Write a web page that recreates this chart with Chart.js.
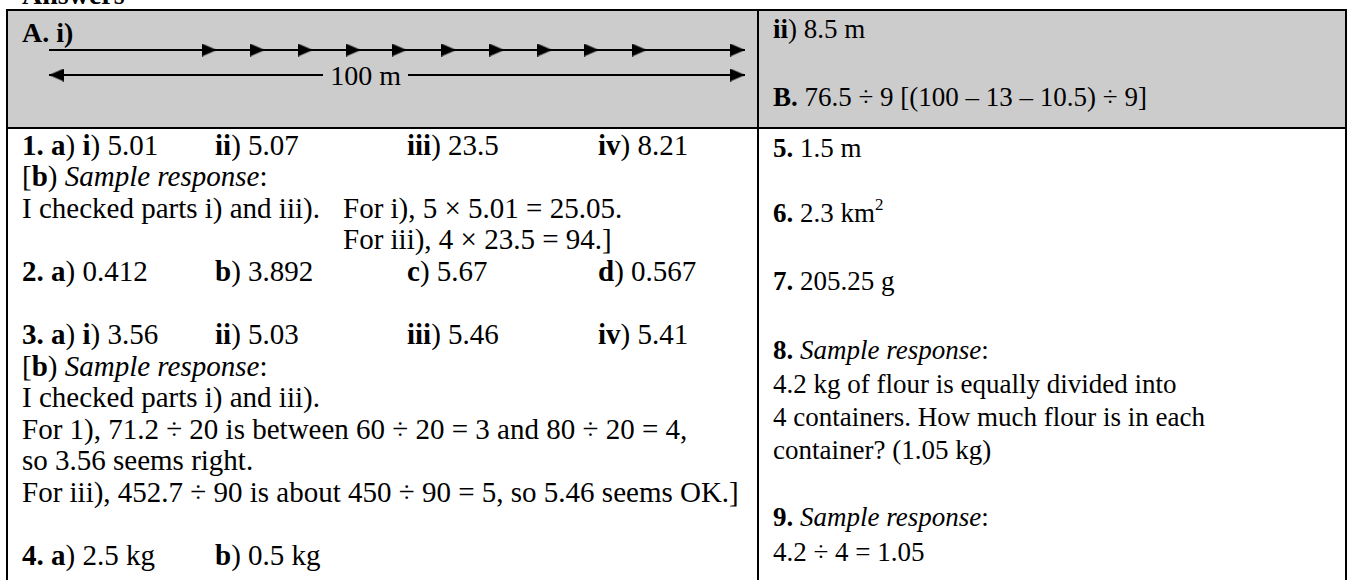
<!DOCTYPE html>
<html>
<head>
<meta charset="utf-8">
<script src="https://cdn.jsdelivr.net/npm/chart.js@4.4.1/dist/chart.umd.min.js"></script>
<style>
  body{margin:0;background:#fff;width:1353px;height:580px;overflow:hidden;position:relative;
       font-family:"Liberation Serif","Times New Roman",serif;font-size:28px;color:#000;}
  .ln{position:absolute;white-space:pre;line-height:32px;height:32px;}
  .l{font-size:29px;}
  .r{font-size:27px;}
  .rule{position:absolute;background:#000;}
  .gray{position:absolute;background:#cccccc;}
  sup{font-size:17px;line-height:0;vertical-align:12px;}
  #track{position:absolute;left:29px;top:35px;}
  #len{position:absolute;background:#cccccc;padding:0 7px;line-height:32px;white-space:pre;}
</style>
</head>
<body>
<div class="ln" style="left:22px;top:-21px"><b>Answers</b></div>

<div class="gray" style="left:8px;top:11px;width:1337px;height:116px"></div>
<div class="rule" style="left:6px;top:9px;width:1341px;height:2px"></div>
<div class="rule" style="left:6px;top:127px;width:1341px;height:2px"></div>
<div class="rule" style="left:6px;top:9px;width:2px;height:580px"></div>
<div class="rule" style="left:757px;top:9px;width:2px;height:580px"></div>
<div class="rule" style="left:1345px;top:9px;width:2px;height:580px"></div>

<!-- row A -->
<div class="ln" style="left:22px;top:17px"><b>A. i)</b></div>
<canvas id="track" width="736" height="55"></canvas>
<span id="len"></span>
<div class="ln r" style="left:773px;top:13px"><b>ii</b>) 8.5 m</div>
<div class="ln r" style="left:773px;top:81px"><b>B.</b> 76.5 ÷ 9 [(100 – 13 – 10.5) ÷ 9]</div>

<!-- left column -->
<div class="ln l" style="left:22px;top:129px"><b>1. a</b>) <b>i</b>) 5.01</div>
<div class="ln l" style="left:215px;top:129px"><b>ii</b>) 5.07</div>
<div class="ln l" style="left:407px;top:129px"><b>iii</b>) 23.5</div>
<div class="ln l" style="left:598px;top:129px"><b>iv</b>) 8.21</div>
<div class="ln l" style="left:22px;top:160px">[<b>b</b>) <i>Sample response</i>:</div>
<div class="ln l" style="left:22px;top:192px">I checked parts i) and iii).</div>
<div class="ln l" style="left:343px;top:192px">For i), 5 × 5.01 = 25.05.</div>
<div class="ln l" style="left:343px;top:223px">For iii), 4 × 23.5 = 94.]</div>
<div class="ln l" style="left:22px;top:255px"><b>2. a</b>) 0.412</div>
<div class="ln l" style="left:215px;top:255px"><b>b</b>) 3.892</div>
<div class="ln l" style="left:407px;top:255px"><b>c</b>) 5.67</div>
<div class="ln l" style="left:598px;top:255px"><b>d</b>) 0.567</div>
<div class="ln l" style="left:22px;top:318px"><b>3. a</b>) <b>i</b>) 3.56</div>
<div class="ln l" style="left:215px;top:318px"><b>ii</b>) 5.03</div>
<div class="ln l" style="left:407px;top:318px"><b>iii</b>) 5.46</div>
<div class="ln l" style="left:598px;top:318px"><b>iv</b>) 5.41</div>
<div class="ln l" style="left:22px;top:350px">[<b>b</b>) <i>Sample response</i>:</div>
<div class="ln l" style="left:22px;top:381px">I checked parts i) and iii).</div>
<div class="ln l" style="left:22px;top:413px">For 1), 71.2 ÷ 20 is between 60 ÷ 20 = 3 and 80 ÷ 20 = 4,</div>
<div class="ln l" style="left:22px;top:444px">so 3.56 seems right.</div>
<div class="ln l" style="left:22px;top:476px">For iii), 452.7 ÷ 90 is about 450 ÷ 90 = 5, so 5.46 seems OK.]</div>
<div class="ln l" style="left:22px;top:539px"><b>4. a</b>) 2.5 kg</div>
<div class="ln l" style="left:215px;top:539px"><b>b</b>) 0.5 kg</div>

<!-- right column -->
<div class="ln r" style="left:773px;top:132px"><b>5.</b> 1.5 m</div>
<div class="ln r" style="left:773px;top:197px"><b>6.</b> 2.3 km<sup>2</sup></div>
<div class="ln r" style="left:773px;top:265px"><b>7.</b> 205.25 g</div>
<div class="ln r" style="left:773px;top:334px"><b>8.</b> <i>Sample response</i>:</div>
<div class="ln r" style="left:773px;top:368px">4.2 kg of flour is equally divided into</div>
<div class="ln r" style="left:773px;top:401px">4 containers. How much flour is in each</div>
<div class="ln r" style="left:773px;top:434px">container? (1.05 kg)</div>
<div class="ln r" style="left:773px;top:501px"><b>9.</b> <i>Sample response</i>:</div>
<div class="ln r" style="left:773px;top:536px">4.2 ÷ 4 = 1.05</div>

<script>
// track diagram, positions on a 0..100 scale
const trackStart = 0;
const trackEnd = 100;
const hurdleMarks = [24.1, 31.0, 37.9, 44.8, 51.4, 58.5, 65.4, 72.3, 79.0, 85.9];
const lengthLabel = "100 m";
const labelAt = 45.5;
const runRow = 1, measureRow = 0;

// arrowhead whose tip sits at the image centre
function arrowHead(len, h){
  const c = document.createElement("canvas");
  c.width = len*2; c.height = h;
  const g = c.getContext("2d");
  g.fillStyle = "#000";
  g.beginPath(); g.moveTo(0,0); g.lineTo(len,h/2); g.lineTo(0,h); g.closePath(); g.fill();
  return c;
}
const head = arrowHead(15, 13);

const seg = (y)=>[{x:trackStart,y},{x:trackEnd,y}];
const base = {clip:false, pointRadius:0, borderColor:"#000", backgroundColor:"#000"};

const ctx = document.getElementById("track");
const chart = new Chart(ctx,{
  type:"scatter",
  data:{datasets:[
    {...base, data:seg(runRow), showLine:true, borderWidth:2},
    {...base, data:seg(measureRow), showLine:true, borderWidth:2},
    {...base, data:hurdleMarks.map(x=>({x,y:runRow})), pointStyle:head, pointRadius:8},
    {...base, data:[{x:trackEnd,y:runRow},{x:trackEnd,y:measureRow}], pointStyle:head, pointRadius:8},
    {...base, data:[{x:trackStart,y:measureRow}], pointStyle:head, pointRadius:8, pointRotation:180}
  ]},
  options:{
    responsive:false, animation:false, events:[], devicePixelRatio:1,
    layout:{padding:{left:20,right:20,top:15,bottom:15}},
    plugins:{legend:{display:false}, tooltip:{enabled:false}},
    scales:{
      x:{type:"linear", min:trackStart, max:trackEnd, display:false},
      y:{type:"linear", min:measureRow, max:runRow, display:false}
    }
  }
});

// label sits on the measuring line, hiding it underneath
const len = document.getElementById("len");
len.textContent = lengthLabel;
const px = chart.scales.x.getPixelForValue(labelAt);
const py = chart.scales.y.getPixelForValue(measureRow);
len.style.left = (ctx.offsetLeft + px - len.offsetWidth/2) + "px";
len.style.top = (ctx.offsetTop + py - 15) + "px";
</script>
</body>
</html>
